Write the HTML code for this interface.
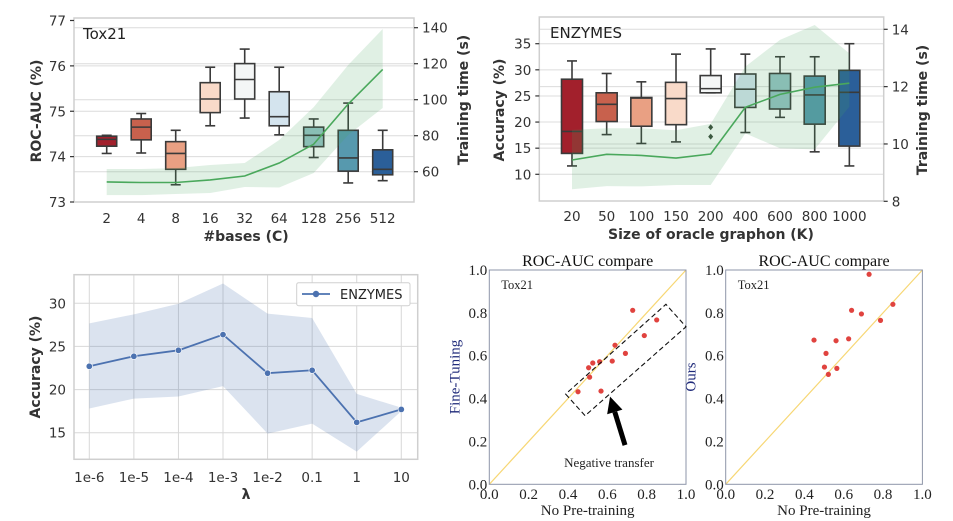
<!DOCTYPE html>
<html><head><meta charset="utf-8">
<style>
html,body{margin:0;padding:0;background:#fff;}
svg{display:block;}
.sb{font-family:"DejaVu Sans","Liberation Sans",sans-serif;}
.sf{font-family:"Liberation Serif","DejaVu Serif",serif;}
</style></head>
<body>
<svg id="fig" width="953" height="521" viewBox="0 0 953 521" xmlns="http://www.w3.org/2000/svg"></svg>
<script>
// ---------- Panel A: Tox21 #bases ----------
const basesCats = ['2','4','8','16','32','64','128','256','512'];
const basesLo  = [74.07,74.08,73.38,74.68,74.85,74.48,73.98,73.42,73.47];
const basesQ1  = [74.23,74.37,73.72,74.97,75.27,74.68,74.22,73.68,73.60];
const basesMed = [74.38,74.65,74.07,75.27,75.70,74.88,74.47,73.97,73.72];
const basesQ3  = [74.45,74.83,74.33,75.63,76.05,75.43,74.65,74.58,74.15];
const basesHi  = [74.47,74.95,74.58,75.97,76.37,75.97,74.83,75.18,74.58];
const basesTime  = [54.3,54.0,54.0,55.4,57.6,64.8,75.3,97.6,116.8];
const basesTimeU = [61.5,61.5,62.0,63.7,64.8,77.6,95.9,119.3,139.3];
const basesTimeL = [47.0,47.0,47.6,48.2,51.5,51.2,59.3,80.4,95.4];
const basesLeftTicks = [73,74,75,76,77];
const basesRightTicks = [60,80,100,120,140];
// ---------- Panel B: ENZYMES graphon size ----------
const kCats = ['20','50','100','150','200','400','600','800','1000'];
const kLo  = [11.6,17.6,15.9,16.2,25.6,18.0,20.9,14.3,11.6];
const kQ1  = [14.0,20.1,19.2,19.5,25.6,22.8,22.5,19.6,15.4];
const kMed = [18.2,23.4,24.6,24.5,26.4,26.3,26.0,25.2,25.7];
const kQ3  = [28.2,25.6,24.7,27.6,28.9,29.2,29.3,28.8,29.9];
const kHi  = [31.7,29.3,27.7,33.0,34.0,33.0,32.5,32.5,35.0];
const kFliers = [[],[],[],[],[19.0,17.2],[],[],[],[]];
const kTime  = [9.44,9.64,9.60,9.51,9.65,11.28,11.73,11.98,12.12];
const kTimeU = [10.49,10.55,10.55,10.48,10.70,12.70,13.63,14.15,13.16];
const kTimeL = [8.42,8.53,8.52,8.57,8.57,10.37,9.85,9.81,11.30];
const kLeftTicks = [10,15,20,25,30,35];
const kRightTicks = [8,10,12,14];
// ---------- Panel C: lambda ----------
const lamCats = ['1e-6','1e-5','1e-4','1e-3','1e-2','0.1','1','10'];
const lamAcc  = [22.7,23.86,24.55,26.37,21.9,22.24,16.2,17.7];
const lamUp   = [27.68,28.72,29.95,32.3,28.8,28.3,19.5,17.9];
const lamLow  = [17.8,18.95,19.2,20.4,14.9,16.05,12.8,17.5];
const lamTicks = [15,20,25,30];
// ---------- Panel D/E: scatter ----------
const ftX = [0.451,0.505,0.526,0.510,0.561,0.568,0.625,0.639,0.692,0.729,0.788,0.851];
const ftY = [0.432,0.544,0.566,0.500,0.572,0.435,0.575,0.649,0.611,0.812,0.694,0.767];
const oursX = [0.449,0.510,0.502,0.522,0.561,0.565,0.625,0.640,0.690,0.729,0.787,0.850];
const oursY = [0.673,0.611,0.547,0.513,0.670,0.541,0.679,0.812,0.795,0.980,0.765,0.840];
const scTicks = [0.0,0.2,0.4,0.6,0.8,1.0];
const negBox = [[0.388,0.421],[0.487,0.320],[1.0,0.735],[0.898,0.840]];
const arrowPts = [[0.69,0.183],[0.614,0.409]];

const boxColors = ['#a2202c','#c8614d','#e9a083','#f9dac9','#f4f6f6','#d4e4ee','#97c3c6','#5799ae','#2b5f99'];
const svg = document.getElementById('fig');
const NS = 'http://www.w3.org/2000/svg';
function mk(tag, attrs, name, parent){
  const el = document.createElementNS(NS, tag);
  for (const k in attrs) el.setAttribute(k, attrs[k]);
  
  
  (parent||svg).appendChild(el);
  return el;
}
function txt(x,y,s,name,attrs){
  const a = Object.assign({x:x,y:y},attrs||{});
  const t = mk('text', a, name);
  t.textContent = s;
  return t;
}
function lin(d0,d1,r0,r1){return v=>r0+(v-d0)*(r1-r0)/(d1-d0);}

// ===== Panel A =====
(function(){
  const L=74,R=414,T=18,B=202;
  const y=lin(73,77,202,20.5), y2=lin(60,140,171.7,27.7);
  const x=i=>106.7+i*34.5;
  basesLeftTicks.forEach(v=>{ if(v>73&&v<77) mk('line',{x1:L,x2:R,y1:y(v),y2:y(v),stroke:'#dcdcdc','stroke-width':1},'grid-left-'+v); });
  basesRightTicks.forEach(v=>mk('line',{x1:L,x2:R,y1:y2(v),y2:y2(v),stroke:'#dcdcdc','stroke-width':1},'grid-right-'+v));
  basesCats.forEach((c,i)=>{
    const cx=x(i), w=20;
    mk('line',{x1:cx,x2:cx,y1:y(basesHi[i]),y2:y(basesQ3[i]),stroke:'#3a3a3a','stroke-width':1.6},'whisker-upper-'+c);
    mk('line',{x1:cx,x2:cx,y1:y(basesQ1[i]),y2:y(basesLo[i]),stroke:'#3a3a3a','stroke-width':1.6},'whisker-lower-'+c);
    mk('line',{x1:cx-5,x2:cx+5,y1:y(basesHi[i]),y2:y(basesHi[i]),stroke:'#3a3a3a','stroke-width':1.6},'cap-upper-'+c);
    mk('line',{x1:cx-5,x2:cx+5,y1:y(basesLo[i]),y2:y(basesLo[i]),stroke:'#3a3a3a','stroke-width':1.6},'cap-lower-'+c);
    mk('rect',{x:cx-w/2,y:y(basesQ3[i]),width:w,height:y(basesQ1[i])-y(basesQ3[i]),fill:boxColors[i],stroke:'#3a3a3a','stroke-width':1.6},'box-'+c);
    mk('line',{x1:cx-w/2,x2:cx+w/2,y1:y(basesMed[i]),y2:y(basesMed[i]),stroke:'#3a3a3a','stroke-width':1.6},'median-'+c);
    txt(cx,223,c,'x-tick-'+c,{'class':'sb','font-size':13.5,fill:'#333','text-anchor':'middle'});
  });
  let band='M'+basesCats.map((c,i)=>x(i)+','+y2(basesTimeU[i])).join('L');
  for(let i=basesCats.length-1;i>=0;i--) band+='L'+x(i)+','+y2(basesTimeL[i]);
  mk('path',{d:band+'Z',fill:'#4aa85c','fill-opacity':0.17},'time-band');
  mk('path',{d:'M'+basesCats.map((c,i)=>x(i)+','+y2(basesTime[i])).join('L'),fill:'none',stroke:'#4aa85c','stroke-width':1.6},'time-line');
  mk('rect',{x:L,y:T,width:R-L,height:B-T,fill:'none',stroke:'#cfcfcf','stroke-width':1.5},'plot-frame');
  basesLeftTicks.forEach(v=>{
    mk('line',{x1:L-4,x2:L,y1:y(v),y2:y(v),stroke:'#333','stroke-width':1.2},'y-tick-'+v);
    txt(L-8,y(v)+5,String(v),'y-tick-label-'+v,{'class':'sb','font-size':13.5,fill:'#333','text-anchor':'end'});
  });
  basesRightTicks.forEach(v=>{
    mk('line',{x1:R,x2:R+4,y1:y2(v),y2:y2(v),stroke:'#333','stroke-width':1.2},'y2-tick-'+v);
    txt(R+8,y2(v)+5,String(v),'y2-tick-label-'+v,{'class':'sb','font-size':13.5,fill:'#333'});
  });
  txt(83,39,'Tox21','panel-label-tox21',{'class':'sb','font-size':15,fill:'#222'});
  txt(246,241,'#bases (C)','x-axis-title',{'class':'sb','font-size':14,'font-weight':'bold',fill:'#333','text-anchor':'middle'});
  txt(0,0,'ROC-AUC (%)','y-axis-title',{'class':'sb','font-size':14,'font-weight':'bold',fill:'#333','text-anchor':'middle',transform:'translate(41,111) rotate(-90)'});
  txt(0,0,'Training time (s)','y2-axis-title',{'class':'sb','font-size':14,'font-weight':'bold',fill:'#333','text-anchor':'middle',transform:'translate(468,100) rotate(-90)'});
})();

// ===== Panel B =====
(function(){
  const L=539.3,R=883.7,T=17,B=201;
  const y=lin(10,35,174.3,43.7), y2=lin(8,14,201.3,29.3);
  const x=i=>572+i*34.67;
  kLeftTicks.forEach(v=>mk('line',{x1:L,x2:R,y1:y(v),y2:y(v),stroke:'#dcdcdc','stroke-width':1},'grid-left-'+v));
  kRightTicks.forEach(v=>{ if(v>8) mk('line',{x1:L,x2:R,y1:y2(v),y2:y2(v),stroke:'#dcdcdc','stroke-width':1},'grid-right-'+v); });
  kCats.forEach((c,i)=>{
    const cx=x(i), w=21;
    mk('line',{x1:cx,x2:cx,y1:y(kHi[i]),y2:y(kQ3[i]),stroke:'#3a3a3a','stroke-width':1.6},'whisker-upper-'+c);
    mk('line',{x1:cx,x2:cx,y1:y(kQ1[i]),y2:y(kLo[i]),stroke:'#3a3a3a','stroke-width':1.6},'whisker-lower-'+c);
    mk('line',{x1:cx-5,x2:cx+5,y1:y(kHi[i]),y2:y(kHi[i]),stroke:'#3a3a3a','stroke-width':1.6},'cap-upper-'+c);
    mk('line',{x1:cx-5,x2:cx+5,y1:y(kLo[i]),y2:y(kLo[i]),stroke:'#3a3a3a','stroke-width':1.6},'cap-lower-'+c);
    mk('rect',{x:cx-w/2,y:y(kQ3[i]),width:w,height:Math.max(1,y(kQ1[i])-y(kQ3[i])),fill:boxColors[i],stroke:'#3a3a3a','stroke-width':1.6},'box-'+c);
    mk('line',{x1:cx-w/2,x2:cx+w/2,y1:y(kMed[i]),y2:y(kMed[i]),stroke:'#3a3a3a','stroke-width':1.6},'median-'+c);
    kFliers[i].forEach((f,j)=>mk('path',{d:'M'+cx+','+(y(f)-3)+'l2.5,3l-2.5,3l-2.5,-3z',fill:'#3a4a3a'},'flier-'+c+'-'+j));
    txt(cx,221,c,'x-tick-'+c,{'class':'sb','font-size':13.5,fill:'#333','text-anchor':'middle'});
  });
  let band='M'+kCats.map((c,i)=>x(i)+','+y2(kTimeU[i])).join('L');
  for(let i=kCats.length-1;i>=0;i--) band+='L'+x(i)+','+y2(kTimeL[i]);
  mk('path',{d:band+'Z',fill:'#4aa85c','fill-opacity':0.17},'time-band');
  mk('path',{d:'M'+kCats.map((c,i)=>x(i)+','+y2(kTime[i])).join('L'),fill:'none',stroke:'#4aa85c','stroke-width':1.6},'time-line');
  mk('rect',{x:L,y:T,width:R-L,height:B-T,fill:'none',stroke:'#cfcfcf','stroke-width':1.5},'plot-frame');
  kLeftTicks.forEach(v=>{
    mk('line',{x1:L-4,x2:L,y1:y(v),y2:y(v),stroke:'#333','stroke-width':1.2},'y-tick-'+v);
    txt(L-8,y(v)+5,String(v),'y-tick-label-'+v,{'class':'sb','font-size':13.5,fill:'#333','text-anchor':'end'});
  });
  kRightTicks.forEach(v=>{
    mk('line',{x1:R,x2:R+4,y1:y2(v),y2:y2(v),stroke:'#333','stroke-width':1.2},'y2-tick-'+v);
    txt(R+8,y2(v)+5,String(v),'y2-tick-label-'+v,{'class':'sb','font-size':13.5,fill:'#333'});
  });
  txt(550,38,'ENZYMES','panel-label-enzymes',{'class':'sb','font-size':15,fill:'#222'});
  txt(711,239,'Size of oracle graphon (K)','x-axis-title',{'class':'sb','font-size':14,'font-weight':'bold',fill:'#333','text-anchor':'middle'});
  txt(0,0,'Accuracy (%)','y-axis-title',{'class':'sb','font-size':14,'font-weight':'bold',fill:'#333','text-anchor':'middle',transform:'translate(504,110) rotate(-90)'});
  txt(0,0,'Training time (s)','y2-axis-title',{'class':'sb','font-size':14,'font-weight':'bold',fill:'#333','text-anchor':'middle',transform:'translate(927,110) rotate(-90)'});
})();

// ===== Panel C =====
(function(){
  const L=74,R=417.7,T=274.7,B=459.3;
  const y=lin(15,30,432.7,303.3);
  const x=i=>89.3+i*44.57;
  lamTicks.forEach(v=>mk('line',{x1:L,x2:R,y1:y(v),y2:y(v),stroke:'#d8d8d8','stroke-width':1},'grid-h-'+v));
  lamCats.forEach((c,i)=>{
    mk('line',{x1:x(i),x2:x(i),y1:T,y2:B,stroke:'#d8d8d8','stroke-width':1},'grid-v-'+c);
    txt(x(i),482,c,'x-tick-'+c,{'class':'sb','font-size':13.5,fill:'#333','text-anchor':'middle'});
  });
  let band='M'+lamCats.map((c,i)=>x(i)+','+y(lamUp[i])).join('L');
  for(let i=lamCats.length-1;i>=0;i--) band+='L'+x(i)+','+y(lamLow[i]);
  mk('path',{d:band+'Z',fill:'#4c72b0','fill-opacity':0.2},'accuracy-band');
  mk('path',{d:'M'+lamCats.map((c,i)=>x(i)+','+y(lamAcc[i])).join('L'),fill:'none',stroke:'#4c72b0','stroke-width':1.8},'accuracy-line');
  lamCats.forEach((c,i)=>mk('circle',{cx:x(i),cy:y(lamAcc[i]),r:3.2,fill:'#4c72b0',stroke:'#fff','stroke-width':0.6},'point-'+c));
  mk('rect',{x:L,y:T,width:R-L,height:B-T,fill:'none',stroke:'#cfcfcf','stroke-width':1.5},'plot-frame');
  lamTicks.forEach(v=>txt(L-8,y(v)+5,String(v),'y-tick-label-'+v,{'class':'sb','font-size':13.5,fill:'#333','text-anchor':'end'}));
  const lg=mk('g',{},'legend');
  mk('rect',{x:296.7,y:282.7,width:113.3,height:23,fill:'#fff',stroke:'#d0d0d0','stroke-width':1,rx:2},'legend-box',lg);
  mk('line',{x1:302,x2:330,y1:294,y2:294,stroke:'#4c72b0','stroke-width':1.8},'legend-line',lg);
  mk('circle',{cx:316,cy:294,r:3.2,fill:'#4c72b0'},'legend-marker',lg);
  txt(340,299,'ENZYMES','legend-label',{'class':'sb','font-size':13,fill:'#222'});
  txt(246,499,'λ','x-axis-title',{'class':'sb','font-size':14,'font-weight':'bold',fill:'#333','text-anchor':'middle'});
  txt(0,0,'Accuracy (%)','y-axis-title',{'class':'sb','font-size':14,'font-weight':'bold',fill:'#333','text-anchor':'middle',transform:'translate(40,367) rotate(-90)'});
})();

// ===== Panels D/E =====
function scatter(x0,xs,ys,ylabel,pfx,withBox){
  const x=lin(0,1,x0,x0+196.7), y=lin(0,1,484.3,270);
  mk('line',{x1:x(0),y1:y(0),x2:x(1),y2:y(1),stroke:'#f7d774','stroke-width':1.2},pfx+'diagonal');
  xs.forEach((v,i)=>mk('circle',{cx:x(v),cy:y(ys[i]),r:2.6,fill:'#e0433f'},pfx+'point-'+i));
  mk('rect',{x:x(0),y:y(1),width:196.7,height:214.3,fill:'none',stroke:'#8e95a8','stroke-width':1},pfx+'frame');
  scTicks.forEach(v=>{
    txt(x(0)-2,y(v)+5,v.toFixed(1),pfx+'y-tick-'+v,{'class':'sf','font-size':15,fill:'#222','text-anchor':'end'});
    txt(x(v),499,v.toFixed(1),pfx+'x-tick-'+v,{'class':'sf','font-size':15,fill:'#222','text-anchor':'middle'});
  });
  txt(x(0.5),266,'ROC-AUC compare',pfx+'title',{'class':'sf','font-size':16,fill:'#111','text-anchor':'middle'});
  txt(x(0.5),515,'No Pre-training',pfx+'x-axis-title',{'class':'sf','font-size':15,fill:'#222','text-anchor':'middle'});
  txt(x(0)+12,289,'Tox21',pfx+'label',{'class':'sf','font-size':12.5,fill:'#222'});
  txt(0,0,ylabel,pfx+'y-axis-title',{'class':'sf','font-size':15,fill:'#1f2a7a','text-anchor':'middle',transform:'translate('+(x(0)-30)+',377) rotate(-90)'});
  if(withBox){
    mk('path',{d:'M'+negBox.map(p=>x(p[0])+','+y(p[1])).join('L')+'Z',fill:'none',stroke:'#111','stroke-width':1.1,'stroke-dasharray':'5,3'},'negative-transfer-box');
    const tx=x(arrowPts[0][0]),ty=y(arrowPts[0][1]),hx=x(arrowPts[1][0]),hy=y(arrowPts[1][1]);
    const dx=hx-tx,dy=hy-ty,len=Math.hypot(dx,dy),ux=dx/len,uy=dy/len,px=-uy,py=ux;
    const bx=hx-ux*16,by=hy-uy*16;
    mk('line',{x1:tx,y1:ty,x2:bx,y2:by,stroke:'#000','stroke-width':5},'arrow-shaft');
    mk('path',{d:'M'+hx+','+hy+'L'+(bx+px*8)+','+(by+py*8)+'L'+(bx-px*8)+','+(by-py*8)+'Z',fill:'#000'},'arrow-head');
    txt(609,467,'Negative transfer','negative-transfer-label',{'class':'sf','font-size':13,fill:'#222','text-anchor':'middle'});
  }
}
scatter(489.3,ftX,ftY,'Fine-Tuning','ft-',true);
scatter(725.7,oursX,oursY,'Ours','ours-',false);
</script>
</body></html>
